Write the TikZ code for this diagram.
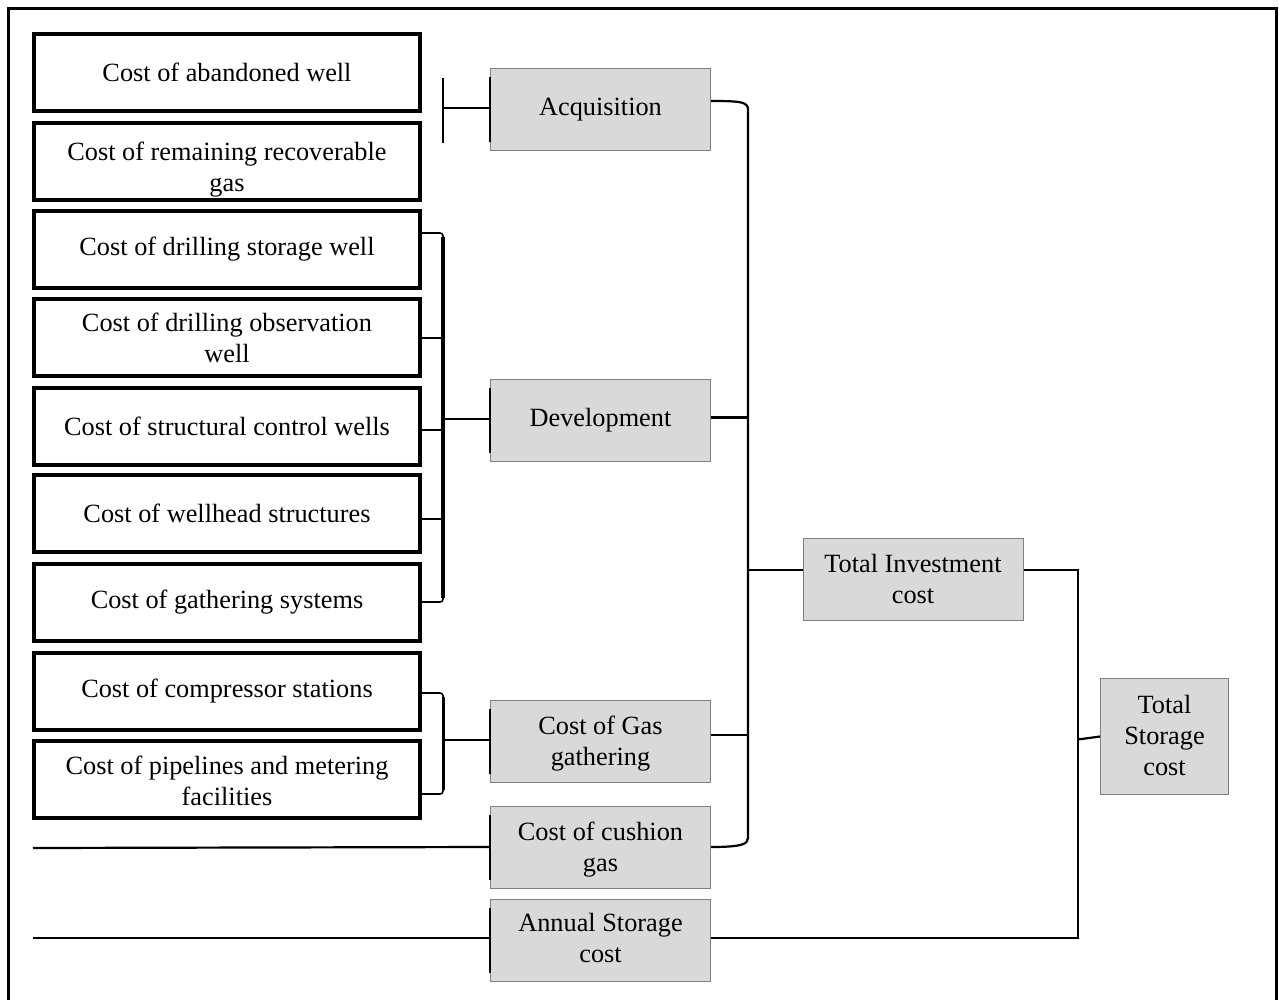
\documentclass[tikz,border=0pt]{standalone}
\usepackage{fontspec}
\setmainfont{Liberation Serif}
\newcommand\tlines[2]{\raisebox{-#1}[\height][\depth]{\begin{tabular}{@{}c@{}}#2\end{tabular}}}
\begin{document}
\begin{tikzpicture}[x=1pt,y=-1pt,
  txt/.style={font=\fontsize{26.3}{31}\selectfont, align=center, inner sep=0pt},
  lbox/.style={txt, draw=black, line width=4pt, minimum width=386pt, minimum height=77pt},
  gbox/.style={txt, draw=black!50, fill=black!15, line width=1pt, minimum width=220pt, minimum height=82pt},
  conn/.style={draw=black, line width=2.2pt},
  stub/.style={draw=black, line width=1.6pt},
  brk/.style={draw=black, line width=3.5pt},
  edgemark/.style={draw=black, line width=2.6pt}]
\useasboundingbox (0,0) rectangle (1279,1000);
% outer frame
\draw[line width=3pt] (8.5,1012) -- (8.5,8.5) -- (1276.5,8.5) -- (1276.5,1012);
% left cost boxes
\node[lbox] (L1) at (227,72.5) {Cost of abandoned well};
\node[lbox] (L2) at (227,161.5) {\tlines{8pt}{Cost of remaining recoverable\\gas}};
\node[lbox] (L3) at (227,249.5) {Cost of drilling storage well};
\node[lbox] (L4) at (227,337) {\tlines{4pt}{Cost of drilling observation\\well}};
\node[lbox] (L5) at (227,426.5) {Cost of structural control wells};
\node[lbox] (L6) at (227,513.5) {Cost of wellhead structures};
\node[lbox] (L7) at (227,602) {Cost of gathering systems};
\node[lbox] (L8) at (227,691.5) {Cost of compressor stations};
\node[lbox] (L9) at (227,779) {\tlines{5pt}{Cost of pipelines and metering\\facilities}};
% grey boxes
\node[gbox] (acq) at (600.5,109.5) {Acquisition};
\node[gbox] (dev) at (600.5,420.5) {Development};
\node[gbox] (gas) at (600.5,741) {\tlines{3pt}{Cost of Gas\\gathering}};
\node[gbox] (cush) at (600.5,847) {\tlines{3pt}{Cost of cushion\\gas}};
\node[gbox] (ann) at (600.5,940) {\tlines{1pt}{Annual Storage\\cost}};
\node[gbox] (tinv) at (913,579) {Total Investment\\cost};
\node[gbox, minimum width=128pt, minimum height=116pt] (tsto) at (1164.5,736.5) {\tlines{1.5pt}{Total\\Storage\\cost}};
% black left edge marks on grey boxes
\foreach \n in {acq,dev,gas,cush,ann}
  \draw[edgemark] ([yshift=-9pt]\n.north west) -- ([yshift=9pt]\n.south west);
% coordinates
\coordinate (dbT) at (443,233);
\coordinate (dbB) at (443,602);
\coordinate (gbT) at (443,693);
\coordinate (gbB) at (443,794);
\coordinate (bus) at (748,0);
\coordinate (rx) at (1078,0);
\coordinate (cl) at (33,848);
\coordinate (al) at (33,938);
% acquisition T-bar
\draw[conn] ([yshift=1.5pt]acq.west) -- ++(-47,0) coordinate (ab);
\draw[brk, line width=2.6pt] (ab) ++(0,-30) -- ++(0,65);
% development bracket
\draw[stub, rounded corners=3pt] (L3.east |- dbT) -- (dbT) -- ++(0,8);
\draw[stub, rounded corners=3pt] (L7.east |- dbB) -- (dbB) -- ++(0,-8);
\draw[brk] ([yshift=-4pt]dbT) -- ([yshift=4pt]dbB);
\draw[stub] ([yshift=-1pt]L4.east) -- ([yshift=-1pt]L4.east -| dbT);
\draw[stub] ([yshift=-3.5pt]L5.east) -- ([yshift=-3.5pt]L5.east -| dbT);
\draw[stub] ([yshift=-5.5pt]L6.east) -- ([yshift=-5.5pt]L6.east -| dbT);
\draw[conn] ([yshift=1.5pt]dev.west -| dbT) -- ([yshift=1.5pt]dev.west);
% gas bracket
\draw[stub, rounded corners=3pt] (L8.east |- gbT) -- (gbT) -- ++(0,8);
\draw[stub, rounded corners=3pt] (L9.east |- gbB) -- (gbB) -- ++(0,-8);
\draw[brk, line width=3pt] ([yshift=-4pt]gbT) -- ([yshift=4pt]gbB);
\draw[conn] ([yshift=1pt]gas.west -| gbT) -- ([yshift=1pt]gas.west);
% bus to total investment
\draw[conn] ([yshift=8.5pt]acq.east) .. controls (742,101) and (748,102) .. (748,110)
  -- (748,838) .. controls (748,844) and (742,847) .. (cush.east);
\draw[conn] ([yshift=3pt]dev.east) -- ([yshift=3pt]dev.east -| bus);
\draw[conn] ([yshift=6pt]gas.east) -- ([yshift=6pt]gas.east -| bus);
\draw[conn] ([yshift=9pt]tinv.west -| bus) -- ([yshift=9pt]tinv.west);
% right bus
\draw[conn] ([yshift=9pt]tinv.east) -| ([yshift=2pt]rx |- ann.east) -- ([yshift=2pt]ann.east);
\draw[conn] (tsto.west) -- ([yshift=-3pt]rx |- tsto.west);
% left free lines
\draw[conn] (cl) -- (cush.west);
\draw[conn] (al) -- (al -| ann.west);
\end{tikzpicture}
\end{document}
